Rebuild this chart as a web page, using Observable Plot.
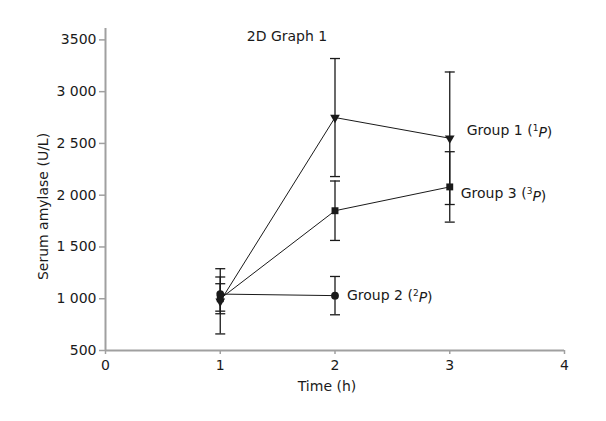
<!DOCTYPE html>
<html>
<head>
<meta charset="utf-8">
<script src="https://cdn.jsdelivr.net/npm/d3@7"></script>
<script src="https://cdn.jsdelivr.net/npm/@observablehq/plot@0.6"></script>
<style>
  html, body { margin: 0; padding: 0; background: #fff; }
</style>
</head>
<body>
<div id="chart"></div>
<script>
// ---- Data ----
const title = "2D Graph 1";
const xLabel = "Time (h)";
const yLabel = "Serum amylase (U/L)";
const xTicks = [0, 1, 2, 3, 4];
const yTicks = [500, 1000, 1500, 2000, 2500, 3000, 3500];
const yTickLabels = ["500", "1 000", "1 500", "2 000", "2 500", "3 000", "3500"];

const group1Times = [1, 2, 3];
const group1Mean = [975, 2750, 2550];
const group1Err = [315, 570, 640];

const group2Times = [1, 2];
const group2Mean = [1045, 1030];
const group2Err = [165, 185];

const group3Times = [1, 2, 3];
const group3Mean = [1000, 1850, 2080];
const group3Err = [145, 287, 340];

const seriesNames = ["Group 1", "Group 2", "Group 3"];
const seriesSup = ["1", "2", "3"];

// ---- Build table ----
function rows(name, times, mean, err) {
  return times.map((t, i) => ({group: name, t, m: mean[i], lo: mean[i] - err[i], hi: mean[i] + err[i]}));
}
const g1 = rows("Group 1", group1Times, group1Mean, group1Err);
const g2 = rows("Group 2", group2Times, group2Mean, group2Err);
const g3 = rows("Group 3", group3Times, group3Mean, group3Err);
const all = [...g1, ...g2, ...g3];

const lab = (g, k) => [{...g[g.length - 1], label: seriesNames[k] + " (" + seriesSup[k] + "P)"}];

// ---- Custom symbols ----
const capSymbol = {
  draw(ctx, size) { const r = Math.sqrt(size / Math.PI); ctx.moveTo(-r, 0); ctx.lineTo(r, 0); }
};
const triDown = {
  draw(ctx, size) {
    const y = Math.sqrt(size / (3 * Math.sqrt(3)));
    const s = Math.sqrt(3) * y;
    ctx.moveTo(0, 2 * y); ctx.lineTo(-s, -y); ctx.lineTo(s, -y); ctx.closePath();
  }
};

const axisGray = "#a0a0a0";
const ink = "#1a1a1a";
const labelOpts = {x: "t", y: "m", text: "label", textAnchor: "start", fill: ink, fontSize: 14};

const chart = Plot.plot({
  width: 606,
  height: 421,
  marginLeft: 105,
  marginRight: 42,
  marginTop: 28,
  marginBottom: 71,
  x: {domain: [0, 4]},
  y: {domain: [500, 3610]},
  style: {fontFamily: "'DejaVu Sans', sans-serif", fontSize: "14px", color: ink, background: "#fff"},
  marks: [
    Plot.axisX({ticks: xTicks, tickSize: 4, tickPadding: 6, stroke: axisGray, strokeWidth: 1.5, fill: ink, label: null, tickFormat: d => String(d)}),
    Plot.axisY({ticks: yTicks, tickSize: 6, tickPadding: 3, stroke: axisGray, strokeWidth: 1.5, fill: ink, label: null,
      tickFormat: d => yTickLabels[yTicks.indexOf(d)]}),
    Plot.ruleY([500], {stroke: axisGray, strokeWidth: 2}),
    Plot.ruleX([0], {stroke: axisGray, strokeWidth: 2}),

    // connecting lines
    Plot.line(all, {x: "t", y: "m", z: "group", stroke: ink, strokeWidth: 1}),

    // error bars
    Plot.ruleX(all, {x: "t", y1: "lo", y2: "hi", stroke: ink, strokeWidth: 1.3}),
    Plot.dot(all, {x: "t", y: "lo", symbol: capSymbol, r: 5, stroke: ink, strokeWidth: 1.3, fill: "none"}),
    Plot.dot(all, {x: "t", y: "hi", symbol: capSymbol, r: 5, stroke: ink, strokeWidth: 1.3, fill: "none"}),

    // markers
    Plot.dot(g1, {x: "t", y: "m", symbol: triDown, r: 3.6, fill: ink, stroke: "none"}),
    Plot.dot(g3, {x: "t", y: "m", symbol: "square", r: 3.9, fill: ink, stroke: "none"}),
    Plot.dot(g2, {x: "t", y: "m", symbol: "circle", r: 3.9, fill: ink, stroke: "none"}),

    // series labels
    Plot.text(lab(g1, 0), {...labelOpts, dx: 17, dy: -8}),
    Plot.text(lab(g2, 1), {...labelOpts, dx: 12, dy: 0}),
    Plot.text(lab(g3, 2), {...labelOpts, dx: 11, dy: 7}),

    // title and axis labels
    Plot.text([title], {frameAnchor: "top", dx: -48, dy: 8, lineAnchor: "middle", fill: ink, fontSize: 14}),
    Plot.text([xLabel], {frameAnchor: "bottom", dx: -8, dy: 36, lineAnchor: "middle", fill: ink, fontSize: 14}),
    Plot.text([yLabel], {frameAnchor: "left", textAnchor: "middle", dx: -62, dy: 17, rotate: -90, lineAnchor: "middle", fill: ink, fontSize: 14})
  ]
});

document.getElementById("chart").appendChild(chart);

// superscript the number and italicize the "P" in series labels
d3.select(chart).selectAll("text").each(function() {
  const t = d3.select(this);
  const s = t.text();
  const m = /^(Group \d \()(\d)P\)$/.exec(s);
  if (!m) return;
  t.text(null);
  t.append("tspan").text(m[1]);
  t.append("tspan").attr("font-size", 9).attr("dy", "-0.45em").text(m[2]);
  t.append("tspan").attr("font-style", "italic").attr("dy", "0.45em").text("P");
  t.append("tspan").text(")");
});
</script>
</body>
</html>
